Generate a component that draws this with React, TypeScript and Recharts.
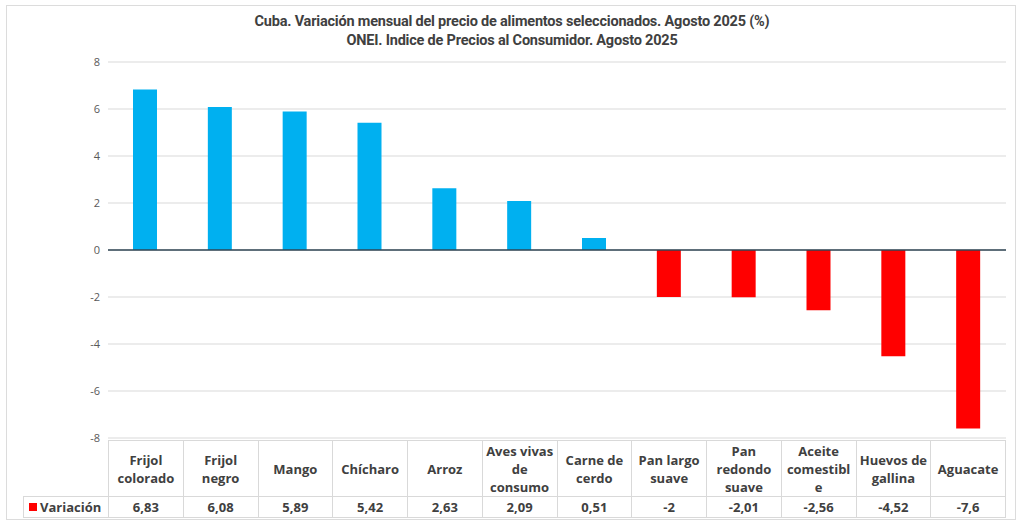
import { BarChart, Bar, XAxis, YAxis, CartesianGrid, ReferenceLine, Cell } from "recharts";

const categories = [
  "Frijol colorado",
  "Frijol negro",
  "Mango",
  "Chícharo",
  "Arroz",
  "Aves vivas de consumo",
  "Carne de cerdo",
  "Pan largo suave",
  "Pan redondo suave",
  "Aceite comestible",
  "Huevos de gallina",
  "Aguacate",
];

// how each category name wraps in the data table under the chart
const tableLabels = [
  ["Frijol", "colorado"],
  ["Frijol", "negro"],
  ["Mango"],
  ["Chícharo"],
  ["Arroz"],
  ["Aves vivas", "de", "consumo"],
  ["Carne de", "cerdo"],
  ["Pan largo", "suave"],
  ["Pan", "redondo", "suave"],
  ["Aceite", "comestibl", "e"],
  ["Huevos de", "gallina"],
  ["Aguacate"],
];

const variacion = [6.83, 6.08, 5.89, 5.42, 2.63, 2.09, 0.51, -2, -2.01, -2.56, -4.52, -7.6];

const yTicks = [-8, -6, -4, -2, 0, 2, 4, 6, 8];

const seriesName = "Variación";
const title1 = "Cuba. Variación mensual del precio de alimentos seleccionados. Agosto 2025 (%)";
const title2 = "ONEI. Indice de Precios al Consumidor. Agosto 2025";

const data = categories.map((name, i) => ({ name, value: variacion[i] }));

const fmt = (v: number) => String(v).replace(".", ",");

const TEXT = "#404040";
const GRID = "#d9d9d9";
const font = "'Open Sans', 'Noto Sans', Arial, sans-serif";

export default function App() {
  return (
    <div
      style={{
        position: "absolute",
        left: 0,
        top: 0,
        width: 1024,
        height: 526,
        background: "#fff",
        fontFamily: font,
      }}
    >
      {/* chart frame */}
      <div
        style={{
          position: "absolute",
          left: 6,
          top: 5,
          width: 1010,
          height: 515,
          border: "1px solid #dcdcdc",
          boxSizing: "border-box",
        }}
      />
      <div
        style={{
          position: "absolute",
          left: 0,
          top: 12,
          width: 1024,
          textAlign: "center",
          fontFamily: "Roboto, 'Open Sans', Arial, sans-serif",
          fontWeight: "bold",
          fontSize: 14.5,
          letterSpacing: -0.2,
          lineHeight: "19px",
          color: TEXT,
        }}
      >
        <div>{title1}</div>
        <div>{title2}</div>
      </div>

      <div style={{ position: "absolute", left: 0, top: 0 }}>
        <BarChart
          width={1024}
          height={444}
          data={data}
          margin={{ top: 62, right: 18, bottom: 6, left: 68 }}
          barSize={24}
        >
          <CartesianGrid vertical={false} stroke={GRID} />
          <XAxis dataKey="name" hide />
          <YAxis
            width={40}
            domain={[-8, 8]}
            ticks={yTicks}
            interval={0}
            axisLine={false}
            tickLine={false}
            tick={{ fill: "#595959", fontSize: 11, fontFamily: font }}
          />
          <ReferenceLine y={0} stroke="#2f4655" strokeWidth={1.5} />
          <Bar dataKey="value" name={seriesName} isAnimationActive={false}>
            {data.map((d, i) => (
              <Cell key={i} fill={d.value >= 0 ? "#00b0f0" : "#ff0000"} />
            ))}
          </Bar>
        </BarChart>
      </div>

      {/* data table under the plot */}
      <table
        style={{
          position: "absolute",
          left: 23,
          top: 440,
          width: 983,
          borderCollapse: "collapse",
          tableLayout: "fixed",
          color: TEXT,
          fontWeight: "bold",
          fontSize: 13,
          fontFamily: font,
        }}
      >
        <colgroup>
          <col style={{ width: 85 }} />
          {categories.map((c) => (
            <col key={c} />
          ))}
        </colgroup>
        <tbody>
          <tr style={{ height: 56 }}>
            <td style={{ border: "none" }} />
            {tableLabels.map((lines, i) => (
              <td
                key={i}
                style={{
                  border: `1px solid ${GRID}`,
                  textAlign: "center",
                  lineHeight: "18px",
                  padding: 0,
                }}
              >
                {lines.map((l, j) => (
                  <div key={j}>{l}</div>
                ))}
              </td>
            ))}
          </tr>
          <tr style={{ height: 21 }}>
            <td
              style={{
                border: `1px solid ${GRID}`,
                padding: "0 0 0 5px",
                whiteSpace: "nowrap",
                lineHeight: "19px",
              }}
            >
              <span
                style={{
                  display: "inline-block",
                  width: 8,
                  height: 8,
                  background: "#ff0000",
                  marginRight: 3,
                  verticalAlign: "middle",
                  position: "relative",
                  top: -1,
                }}
              />
              {seriesName}
            </td>
            {variacion.map((v, i) => (
              <td
                key={i}
                style={{
                  border: `1px solid ${GRID}`,
                  textAlign: "center",
                  padding: 0,
                  lineHeight: "19px",
                }}
              >
                {fmt(v)}
              </td>
            ))}
          </tr>
        </tbody>
      </table>
    </div>
  );
}
